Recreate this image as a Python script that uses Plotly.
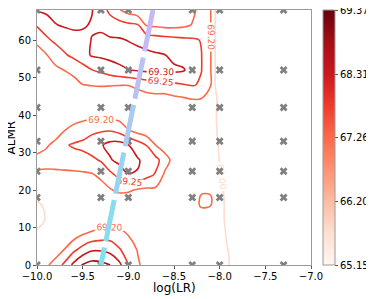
import plotly.graph_objects as go
import numpy as np

# ---------------- data ----------------
# grid on which the accuracy surface is read (log10 learning rate, ALMR)
lr_grid = [-10.0, -9.9, -9.8, -9.7, -9.6, -9.5, -9.4, -9.3, -9.2, -9.1, -9.0, -8.9,
           -8.8, -8.7, -8.6, -8.5, -8.4, -8.3, -8.2, -8.1, -8.0, -7.9, -7.6, -7.3]
almr_grid = [0, 4, 8, 12, 16, 20, 24, 28, 32, 36, 40, 44, 48, 52, 56, 60, 64, 68]

acc_rows = [
    [69.16, 69.19, 69.223, 69.26, 69.311, 69.355, 69.37, 69.365, 69.35, 69.314, 69.252, 69.208, 69.18, 69.16, 69.15, 69.14, 69.14, 69.14, 69.14, 69.12, 69.06, 69.01, 68.3, 65.15],
    [69.10, 69.135, 69.17, 69.203, 69.24, 69.27, 69.295, 69.295, 69.285, 69.255, 69.23, 69.198, 69.17, 69.15, 69.14, 69.14, 69.14, 69.14, 69.14, 69.12, 69.05, 68.995, 68.3, 65.6],
    [69.02, 69.06, 69.10, 69.14, 69.18, 69.202, 69.215, 69.225, 69.228, 69.22, 69.199, 69.17, 69.15, 69.14, 69.14, 69.14, 69.14, 69.14, 69.14, 69.12, 69.04, 68.98, 68.3, 66.0],
    [68.97, 69.005, 69.04, 69.07, 69.10, 69.13, 69.155, 69.17, 69.18, 69.175, 69.165, 69.15, 69.14, 69.14, 69.14, 69.14, 69.14, 69.14, 69.14, 69.12, 69.03, 68.97, 68.3, 66.4],
    [68.98, 69.02, 69.05, 69.08, 69.10, 69.12, 69.13, 69.14, 69.15, 69.155, 69.16, 69.16, 69.155, 69.15, 69.15, 69.15, 69.15, 69.16, 69.212, 69.21, 69.02, 68.98, 68.3, 66.6],
    [69.06, 69.08, 69.10, 69.12, 69.13, 69.145, 69.16, 69.18, 69.196, 69.21, 69.207, 69.195, 69.19, 69.19, 69.185, 69.17, 69.16, 69.165, 69.195, 69.195, 69.02, 68.97, 68.3, 66.8],
    [69.195, 69.19, 69.188, 69.188, 69.188, 69.19, 69.195, 69.21, 69.235, 69.265, 69.298, 69.297, 69.265, 69.245, 69.19, 69.16, 69.15, 69.15, 69.15, 69.12, 69.01, 68.95, 68.3, 67.0],
    [69.21, 69.215, 69.22, 69.225, 69.23, 69.235, 69.24, 69.255, 69.295, 69.315, 69.32, 69.305, 69.285, 69.265, 69.225, 69.18, 69.155, 69.15, 69.14, 69.11, 68.995, 68.93, 68.3, 67.0],
    [69.185, 69.195, 69.21, 69.245, 69.255, 69.26, 69.275, 69.295, 69.315, 69.32, 69.301, 69.275, 69.248, 69.199, 69.17, 69.155, 69.15, 69.145, 69.14, 69.10, 68.98, 68.9, 68.3, 67.0],
    [69.15, 69.165, 69.18, 69.198, 69.215, 69.228, 69.238, 69.243, 69.245, 69.23, 69.201, 69.18, 69.165, 69.155, 69.15, 69.145, 69.145, 69.145, 69.14, 69.09, 68.96, 68.88, 68.3, 67.0],
    [69.14, 69.15, 69.16, 69.17, 69.175, 69.18, 69.185, 69.18, 69.18, 69.18, 69.175, 69.165, 69.16, 69.155, 69.15, 69.15, 69.15, 69.15, 69.15, 69.09, 68.95, 68.87, 68.3, 67.0],
    [69.13, 69.14, 69.145, 69.15, 69.155, 69.16, 69.165, 69.17, 69.17, 69.17, 69.17, 69.175, 69.18, 69.18, 69.175, 69.185, 69.19, 69.197, 69.195, 69.14, 68.94, 68.85, 68.3, 67.0],
    [69.14, 69.15, 69.16, 69.17, 69.18, 69.199, 69.202, 69.203, 69.202, 69.201, 69.201, 69.21, 69.22, 69.228, 69.235, 69.24, 69.247, 69.253, 69.245, 69.21, 68.8, 68.7, 68.3, 67.0],
    [69.17, 69.18, 69.19, 69.201, 69.215, 69.23, 69.249, 69.26, 69.275, 69.288, 69.299, 69.305, 69.31, 69.31, 69.31, 69.31, 69.305, 69.28, 69.251, 69.21, 68.8, 68.7, 68.3, 67.0],
    [69.19, 69.197, 69.22, 69.245, 69.26, 69.28, 69.305, 69.31, 69.315, 69.32, 69.32, 69.315, 69.31, 69.305, 69.301, 69.285, 69.275, 69.265, 69.251, 69.215, 68.8, 68.7, 68.3, 67.0],
    [69.205, 69.24, 69.26, 69.27, 69.28, 69.29, 69.301, 69.31, 69.305, 69.305, 69.298, 69.29, 69.282, 69.275, 69.27, 69.265, 69.26, 69.256, 69.248, 69.22, 68.8, 68.7, 68.3, 67.0],
    [69.255, 69.275, 69.298, 69.305, 69.31, 69.304, 69.297, 69.29, 69.28, 69.27, 69.26, 69.255, 69.195, 69.19, 69.185, 69.185, 69.19, 69.202, 69.215, 69.21, 68.8, 68.7, 68.3, 67.0],
    [69.305, 69.31, 69.315, 69.315, 69.315, 69.31, 69.302, 69.28, 69.235, 69.203, 69.18, 69.165, 69.155, 69.15, 69.15, 69.155, 69.165, 69.19, 69.215, 69.21, 68.8, 68.7, 68.3, 67.0],
]

contour_levels = [69.00, 69.20, 69.25, 69.30, 69.35]

# runs actually trained (grid of evaluated settings)
run_lr = [-10.0, -9.3, -9.0, -8.3, -8.0, -7.3]
run_almr = [0, 18, 25, 33, 42, 52, 68]

# optimal-LR trend line
trend_lr = [-8.73, -9.3]
trend_almr = [68, 0]

cbar_ticks = [65.15, 66.20, 67.26, 68.31, 69.37]
x_ticks = [-10.0, -9.5, -9.0, -8.5, -8.0, -7.5, -7.0]
y_ticks = [0, 10, 20, 30, 40, 50, 60]

# ---------------- styles ----------------
FONT = "DejaVu Sans"
level_colors = ["#fddccd", "#fb6a4a", "#ef3b2c", "#cb181d", "#a50f15"]
reds = [[0.0, "#fff5f0"], [0.125, "#fee0d2"], [0.25, "#fcbba1"], [0.375, "#fc9272"],
        [0.5, "#fb6a4a"], [0.625, "#ef3b2c"], [0.75, "#cb181d"], [0.875, "#a50f15"],
        [1.0, "#67000d"]]
trend_colors = ["#c8b8f5", "#b9c2f5", "#a9cbf3", "#98d4f0", "#89dcef", "#7ee2ee"]
axis_grey = "#9a9a9a"

fig = go.Figure()

z = np.array(acc_rows)
for lev, col in zip(contour_levels, level_colors):
    fig.add_trace(go.Contour(
        x=lr_grid, y=almr_grid, z=z,
        autocontour=False,
        contours=dict(start=lev, end=lev + 0.001, size=0.05, coloring="none",
                      showlabels=True, labelformat=".2f",
                      labelfont=dict(family=FONT, size=9, color=col)),
        line=dict(color=col, width=1.6, smoothing=1.0),
        showscale=False, hoverinfo="skip", showlegend=False,
    ))

gx, gy = np.meshgrid(run_lr, run_almr)
fig.add_trace(go.Scatter(
    x=gx.ravel(), y=gy.ravel(), mode="markers",
    marker=dict(symbol="x", size=7, color="#808080", line=dict(width=0)),
    hoverinfo="skip", showlegend=False,
))

# dashed gradient trend line: one visible dash per colour
period, dash = 48.5, 42
for k, col in enumerate(trend_colors):
    off = k * period
    pattern = f"{dash}px,900px" if k == 0 else f"0px,{off}px,{dash}px,900px"
    fig.add_trace(go.Scatter(
        x=trend_lr, y=trend_almr, mode="lines",
        line=dict(color=col, width=5, dash=pattern),
        hoverinfo="skip", showlegend=False,
    ))

# colour bar
fig.add_trace(go.Scatter(
    x=[-20, -20], y=[-20, -20], mode="markers",
    marker=dict(color=[cbar_ticks[0], cbar_ticks[-1]], colorscale=reds,
                cmin=cbar_ticks[0], cmax=cbar_ticks[-1], showscale=True, size=1,
                colorbar=dict(x=1.044, xanchor="left", y=0.5, yanchor="middle",
                              len=1, lenmode="fraction", thickness=12,
                              xpad=0, ypad=0, outlinewidth=1, outlinecolor=axis_grey,
                              tickvals=cbar_ticks,
                              ticktext=[f"{v:.2f}" for v in cbar_ticks],
                              ticklabeloverflow="allow",
                              ticks="outside", ticklen=3, tickcolor="#555",
                              tickfont=dict(family=FONT, size=10, color="black"))),
    hoverinfo="skip", showlegend=False,
))

# the page body keeps its default 8px margin, so the figure is 8px smaller
fig.update_layout(
    width=366, height=291,
    margin=dict(l=29, r=63, t=2, b=34),
    paper_bgcolor="white", plot_bgcolor="white",
    font=dict(family=FONT, size=10, color="black"),
    xaxis=dict(range=[-10, -7], tickvals=x_ticks,
               ticktext=[f"{v:.1f}".replace("-", "\u2212") for v in x_ticks],
               showgrid=False, zeroline=False, showline=True, mirror=True,
               linecolor=axis_grey, linewidth=1, ticks="outside", ticklen=3,
               tickcolor="#555", tickfont=dict(size=10), ticklabelstandoff=-1),
    yaxis=dict(range=[0, 68], tickvals=y_ticks, ticktext=[str(v) for v in y_ticks],
               showgrid=False, zeroline=False, showline=True, mirror=True,
               linecolor=axis_grey, linewidth=1, ticks="outside", ticklen=3,
               tickcolor="#555", tickfont=dict(size=10)),
    annotations=[
        dict(text="log(LR)", xref="paper", yref="paper", x=0.5, y=-0.09,
             xanchor="center", yanchor="middle", showarrow=False,
             font=dict(size=12)),
        dict(text="ALMR", xref="paper", yref="paper", x=-0.095, y=0.5,
             xanchor="center", yanchor="middle", textangle=-90, showarrow=False,
             font=dict(size=12)),
    ],
)

# let texts that sit in the page margin strip stay visible
fig.write_html(
    "out.html",
    config={"displayModeBar": False},
    post_script="document.querySelectorAll('.main-svg').forEach(function(s){s.style.overflow='visible';});",
)
